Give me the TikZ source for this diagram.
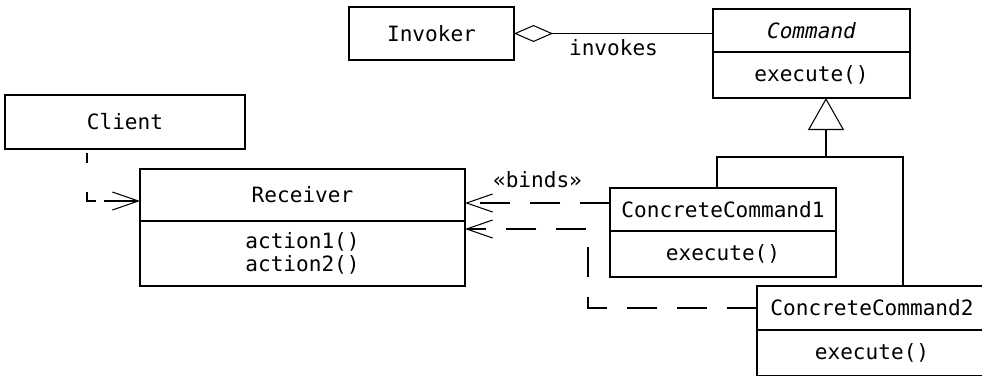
\documentclass[tikz,border=0pt]{standalone}
\usepackage{fontspec}
\setmonofont{DejaVu Sans Mono}
\usetikzlibrary{arrows.meta,positioning,calc}

\begin{document}
\begin{tikzpicture}[
  cls/.style={draw, line width=0.6pt, align=center, inner sep=0pt, outer sep=0pt, font=\ttfamily\fontsize{12}{13}\selectfont},
  lbl/.style={font=\ttfamily\fontsize{12}{13}\selectfont},
  assoc/.style={line width=0.6pt},
  dep/.style={line width=0.6pt, dash pattern=on 0.6cm off 0.4cm, -{Straight Barb[length=0.52cm, width=0.36cm]}},
  gen/.style={line width=0.6pt, -{Triangle[open, length=0.64cm, width=0.72cm]}}
]
\useasboundingbox (0,0) rectangle (19.64,-7.5);

\node[cls, minimum width=3.3cm, minimum height=1.06cm] (inv) at (8.63,-0.67) {Invoker};
\node[cls, minimum width=3.94cm, minimum height=0.86cm] (cmd) at (16.23,-0.61) {\itshape Command};
\node[cls, minimum width=3.94cm, minimum height=0.92cm, below=0pt of cmd] (cmdops) {execute()};

\node[cls, minimum width=4.8cm, minimum height=1.08cm] (client) at (2.5,-2.44) {Client};
\node[cls, minimum width=6.5cm, minimum height=1.04cm] (rcv) at (6.05,-3.9) {Receiver};
\node[cls, minimum width=6.5cm, minimum height=1.3cm, below=0pt of rcv] (rcvops) {action1()\\action2()};

\node[cls, minimum width=4.52cm, minimum height=0.86cm] (cc1) at (14.46,-4.19) {ConcreteCommand1};
\node[cls, minimum width=4.52cm, minimum height=0.92cm, below=0pt of cc1] (cc1ops) {execute()};
\node[cls, minimum width=4.6cm, minimum height=0.88cm] (cc2) at (17.44,-6.16) {ConcreteCommand2};
\node[cls, minimum width=4.6cm, minimum height=0.92cm, below=0pt of cc2] (cc2ops) {execute()};

% aggregation
\draw[assoc, {Diamond[open, length=0.78cm, width=0.34cm]}-] (inv.east) -- node[lbl, below] {invokes} (inv.east -| cmd.west);

% generalization
\coordinate (fork) at (16.52,-3.14);
\draw[gen] (fork) -- (fork |- cmdops.south);
\draw[assoc] ($(cc1.north)+(-0.12,0)$) |- (fork) -| ($(cc2.north)+(0.62,0)$);

% dependencies
\draw[dep, dash pattern=on 0pt off 0.08cm on 0.2cm off 0.58cm on 0.36cm off 0.16cm on 2cm] ($(client.south)+(-0.76,0)$) |- ($(rcv.west)+(0,-0.12)$);
\draw[dep] ([yshift=0.13cm]cc1.west) -- node[lbl, above=5pt] {«binds»} ([yshift=0.13cm]cc1.west -| rcv.east);
\coordinate (bend) at (11.76,-4.58);
\draw[dep] (cc2.west) -| (bend) -- (bend -| rcv.east);

\end{tikzpicture}
\end{document}
